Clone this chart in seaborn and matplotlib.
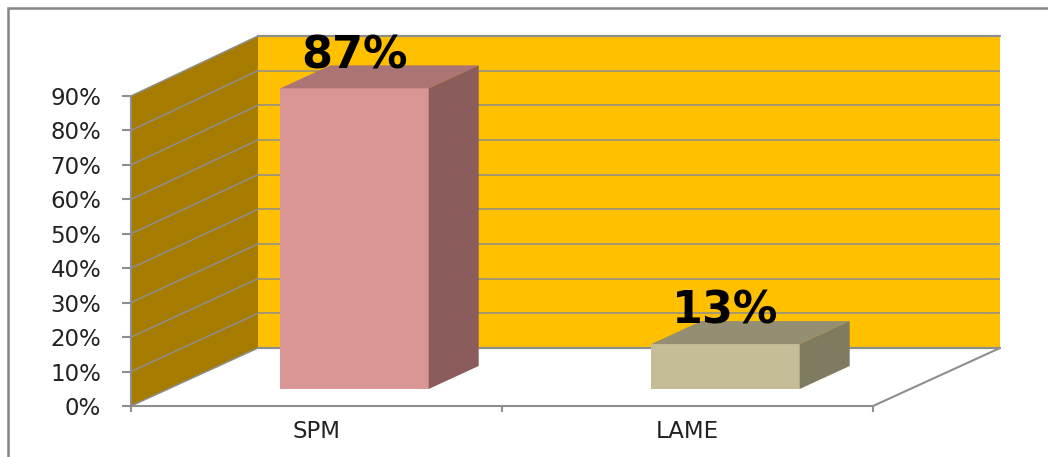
import matplotlib
matplotlib.use("Agg")
import matplotlib.pyplot as plt
import pandas as pd
import seaborn as sns
from matplotlib.patches import Polygon, Rectangle
from matplotlib.lines import Line2D
from matplotlib.transforms import IdentityTransform

categories = ["SPM", "LAME"]
values = [87, 13]
y_ticks = [0, 10, 20, 30, 40, 50, 60, 70, 80, 90]
front_colors = ["#DA9694", "#C4BD97"]
top_colors = ["#AB7475", "#948F72"]
side_colors = ["#8C5B5C", "#7F7B60"]
WALL = "#FFC000"
SIDE_WALL = "#A67C00"
GRID = "#8E8E8E"

W, H = 1048, 457
sns.set_theme(style="white")
plt.rcParams["font.family"] = ["DejaVu Sans"]
fig = plt.figure(figsize=(W / 100, H / 100), dpi=100, facecolor="white")


def box(x0, ytop, x1, ybot):
    return [x0 / W, 1 - ybot / H, (x1 - x0) / W, (ybot - ytop) / H]


# outer chart frame (runs off the right and bottom of the picture)
fig.add_artist(Rectangle((8 / W, -0.1), 1.2, 1.1 - 8 / H, transform=fig.transFigure,
                         fill=False, edgecolor="#868686", linewidth=1.8))

# back wall
ax_wall = fig.add_axes(box(258, 36, 1000, 348), facecolor=WALL, zorder=1)
ax_wall.set_xlim(0, 1)
ax_wall.set_ylim(0, 90)
ax_wall.set_yticks(y_ticks)
ax_wall.set_xticks([])
ax_wall.tick_params(left=False, labelleft=False)
ax_wall.grid(axis="y", color=GRID, linewidth=1.1)
for s in ax_wall.spines.values():
    s.set_visible(False)
for v in (0, 90):
    ax_wall.axhline(v, color=GRID, linewidth=1.6, clip_on=False)

# front plane: value axis and category axis
ax = fig.add_axes(box(131, 96, 873, 406), facecolor="none", zorder=2)
ax.set_xlim(-0.5, 1.5)
ax.set_ylim(0, 90)
ax.set_yticks(y_ticks)
ax.set_yticklabels([f"{v}%" for v in y_ticks], fontsize=16.5, color="#222222")
ax.set_xticks([0, 1])
ax.set_xticklabels(categories, fontsize=16.5, color="#222222")
ax.set_xticks([-0.5, 0.5, 1.5], minor=True)
ax.tick_params(axis="y", length=6.5, width=1.5, color=GRID, pad=15, left=True)
ax.tick_params(axis="x", which="major", length=0, pad=10)
ax.tick_params(axis="x", which="minor", length=4.5, width=1.5, color=GRID, bottom=True)
for name in ("top", "right"):
    ax.spines[name].set_visible(False)
for name in ("left", "bottom"):
    ax.spines[name].set_color(GRID)
    ax.spines[name].set_linewidth(1.5)


def front(x, y):
    return ax.transData.transform((x, y))


def back(x, y):
    return ax_wall.transData.transform((x, y))


# side wall with its gridlines, floor edge
ax.add_patch(Polygon([front(-0.5, 0), front(-0.5, 90), back(0, 90), back(0, 0)],
                     closed=True, facecolor=SIDE_WALL, edgecolor="none",
                     transform=IdentityTransform(), clip_on=False, zorder=1))
for v in y_ticks:
    p, q = front(-0.5, v), back(0, v)
    ax.add_line(Line2D([p[0], q[0]], [p[1], q[1]], color=GRID, linewidth=1.1,
                       transform=IdentityTransform(), clip_on=False, zorder=2))
p, q = front(1.5, 0), back(1, 0)
ax.add_line(Line2D([p[0], q[0]], [p[1], q[1]], color=GRID, linewidth=1.5,
                   transform=IdentityTransform(), clip_on=False, zorder=2))

# bars, standing inside the depth of the floor
ax_bar = fig.add_axes(box(169, 78, 911, 389), facecolor="none", zorder=3)
df = pd.DataFrame({"category": categories, "value": values})
sns.barplot(data=df, x="category", y="value", hue="category", palette=front_colors,
            width=0.4, saturation=1, legend=False, linewidth=0, ax=ax_bar)
ax_bar.set_xlim(-0.5, 1.5)
ax_bar.set_ylim(0, 90)
ax_bar.axis("off")

DX, DY = 50, 23  # receding depth of a bar, pixels
for bar, val, top_c, side_c in zip(list(ax_bar.patches), values, top_colors, side_colors):
    x0, x1 = bar.get_x(), bar.get_x() + bar.get_width()
    a = ax_bar.transData.transform((x0, val))
    b = ax_bar.transData.transform((x1, val))
    c = ax_bar.transData.transform((x1, 0))
    shift = (DX, DY)
    ax_bar.add_patch(Polygon([a, b, b + shift, a + shift], closed=True, facecolor=top_c,
                             edgecolor="none", transform=IdentityTransform(), clip_on=False))
    ax_bar.add_patch(Polygon([b, c, c + shift, b + shift], closed=True, facecolor=side_c,
                             edgecolor="none", transform=IdentityTransform(), clip_on=False))

for i, val in enumerate(values):
    ax_bar.annotate(f"{val}%", xy=(i, val), xytext=(0, 23.5), textcoords="offset points",
                    ha="center", va="center", fontsize=32, fontweight="bold",
                    color="black", annotation_clip=False, zorder=10)

fig.savefig("out.png", dpi=100)
